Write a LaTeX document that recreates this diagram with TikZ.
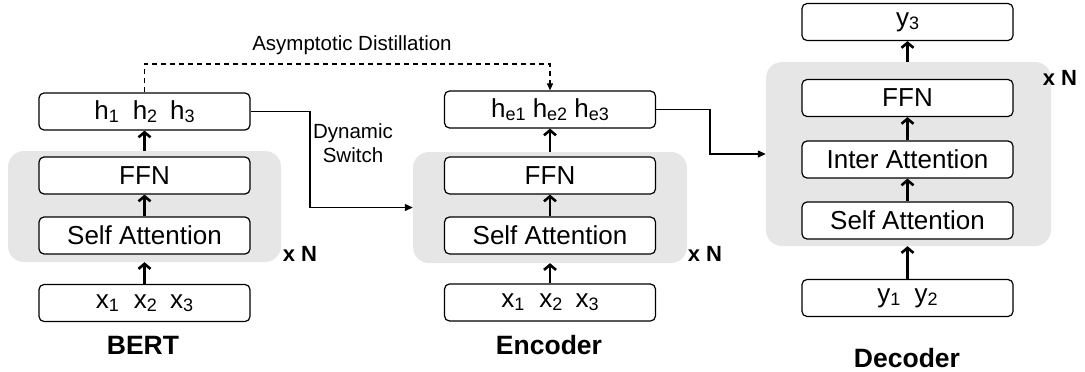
\documentclass[tikz,border=0pt]{standalone}
\usepackage{fontspec}
\setmainfont{Liberation Sans}
\usetikzlibrary{arrows.meta,calc}
\definecolor{grpgray}{HTML}{E6E6E6}
\newcommand{\sbs}[1]{\raisebox{-3pt}{\fontsize{18}{18}\selectfont #1}}
\begin{document}
\begin{tikzpicture}[x=1pt,y=-1pt,
  blk/.style={draw, fill=white, line width=1.2pt, rounded corners=5pt, minimum width=211pt, minimum height=37pt, inner sep=0pt, font=\fontsize{26}{30}\selectfont},
  grp/.style={fill=grpgray, rounded corners=16pt, inner sep=0pt},
  uparr/.style={line width=2.6pt, -{Straight Barb[length=5pt,width=12pt]}},
  conn/.style={line width=1.3pt, -{Triangle[length=8pt,width=7pt]}},
  dconn/.style={line width=1.1pt, dashed, dash pattern=on 5pt off 4pt, -{Triangle[length=7pt,width=6pt]}},
  title/.style={font=\fontsize{26.5}{30}\selectfont\bfseries, inner sep=0pt},
  xn/.style={font=\fontsize{22}{26}\selectfont\bfseries, inner sep=0pt},
  lbl/.style={font=\fontsize{20.5}{24}\selectfont, inner sep=0pt, align=center}]
\useasboundingbox (0,0) rectangle (1085,372);
% group backgrounds
\node[grp, minimum width=273pt, minimum height=111pt] (bg) at (144.5,206.5) {};
\node[grp, minimum width=274pt, minimum height=111pt] (eg) at (550,207.5) {};
\node[grp, minimum width=285pt, minimum height=184pt] (dg) at (908.5,154) {};
% BERT
\node[blk] (bh) at (144.5,111.5) {h\sbs{1}\hspace{14pt}h\sbs{2}\hspace{13pt}h\sbs{3}};
\node[blk] (bffn) at (144.5,175.5) {FFN};
\node[blk] (bsa) at (144.5,235.5) {Self Attention};
\node[blk] (bx) at (144.5,303) {x\sbs{1}\hspace{15pt}x\sbs{2}\hspace{13pt}x\sbs{3}};
\node[title] (bt) at (143,345) {BERT};
\node[xn] (bn) at (300,254) {x N};
% Encoder
\node[blk] (eh) at (550,109.5) {h\sbs{e1} h\sbs{e2} h\sbs{e3}};
\node[blk] (effn) at (550,175.5) {FFN};
\node[blk] (esa) at (550,235.5) {Self Attention};
\node[blk] (ex) at (550,302.5) {x\sbs{1}\hspace{15pt}x\sbs{2}\hspace{13pt}x\sbs{3}};
\node[title] (et) at (549,345) {Encoder};
\node[xn] (en) at (705,254) {x N};
% Decoder
\node[blk] (dy3) at (907.5,22) {y\sbs{3}};
\node[blk] (dffn) at (907.5,98) {FFN};
\node[blk] (dia) at (907.5,159.5) {Inter Attention};
\node[blk] (dsa) at (907.5,220.5) {Self Attention};
\node[blk] (dy) at (907.5,298) {y\sbs{1}\hspace{14pt}y\sbs{2}};
\node[title] (dt) at (907,358) {Decoder};
\node[xn] (dn) at (1060,78) {x N};
% labels
\node[lbl] (ad) at (352,45) {Asymptotic Distillation};
\node[lbl] (ds) at (353,143) {Dynamic\\Switch};
% vertical arrows
\draw[uparr] (bx.north) -- (bx.north |- bg.south);
\draw[uparr] (bsa.north) -- (bffn.south);
\draw[uparr] (bh.south |- bg.north) -- (bh.south);
\draw[uparr] (ex.north) -- (ex.north |- eg.south);
\draw[uparr] (esa.north) -- (effn.south);
\draw[uparr] (eh.south |- eg.north) -- (eh.south);
\draw[uparr] (dy.north) -- (dy.north |- dg.south);
\draw[uparr] (dsa.north) -- (dia.south);
\draw[uparr] (dia.north) -- (dffn.south);
\draw[uparr] (dy3.south |- dg.north) -- (dy3.south);
% connectors
\coordinate (dtop) at (350,64);
\coordinate (swx) at (310,0);
\coordinate (edx) at (710,0);
\draw[dconn] (bh.north) -- (bh.north |- dtop) -| (eh.north);
\draw[conn] (bh.east) -| (swx |- eg.west) -- (eg.west);
\draw[conn] (eh.east) -| (edx |- dg.west) -- (dg.west);
\end{tikzpicture}
\end{document}
